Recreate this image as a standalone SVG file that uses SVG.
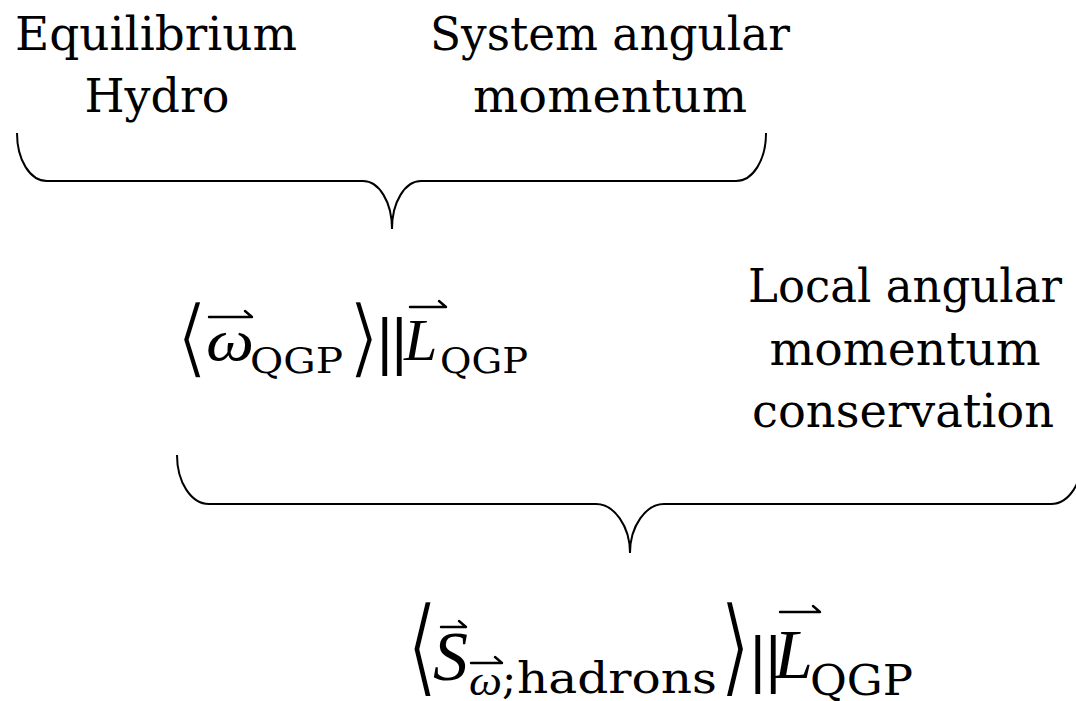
<svg xmlns="http://www.w3.org/2000/svg" width="1076" height="701" viewBox="0 0 1076 701">
  <style>
    .label { font-family: "DejaVu Serif", "Liberation Serif", serif; font-size: 47px; fill: #000; text-anchor: middle; }
    .mi { font-family: "Liberation Serif", "DejaVu Serif", serif; font-style: italic; fill: #000; }
    .sub { font-family: "DejaVu Serif", "Liberation Serif", serif; fill: #000; }
    .delim { font-family: "DejaVu Sans", "Liberation Sans", sans-serif; fill: #000; }
    /* thin the angle brackets by eroding their edges with a white outline */
    .thin { stroke: #fff; stroke-width: 2.6px; paint-order: fill stroke; }
    .brace { fill: none; stroke: #000; stroke-width: 2; }
    .vec { fill: none; stroke: #000; stroke-width: 2.4; stroke-linecap: round; stroke-linejoin: round; }
  </style>
  <rect width="1076" height="701" fill="#fff"/>

  <!-- Braces joining the labels to the results below them -->
  <g id="connectors">
    <path class="brace" d="M17,133 C17,160 30,181 47,181 L363,181 C379,181 392,202 392,229 C392,202 405,181 421,181 L736,181 C753,181 766,160 766,133"/>
    <path class="brace" d="M177,455 C177,482 191,504 209,504 L596,504 C614,504 630,526 630,553 C630,526 646,504 664,504 L1051,504 C1069,504 1083,482 1083,455"/>
  </g>

  <g id="equilibrium-hydro">
    <text class="label" x="156" y="50" textLength="282" lengthAdjust="spacingAndGlyphs">Equilibrium</text>
    <text class="label" x="157" y="112" textLength="145" lengthAdjust="spacingAndGlyphs">Hydro</text>
  </g>

  <g id="system-angular-momentum">
    <text class="label" x="610" y="50" textLength="360" lengthAdjust="spacingAndGlyphs">System angular</text>
    <text class="label" x="610" y="112" textLength="274" lengthAdjust="spacingAndGlyphs">momentum</text>
  </g>

  <g id="local-conservation">
    <text class="label" x="905" y="302" textLength="314" lengthAdjust="spacingAndGlyphs">Local angular</text>
    <text class="label" x="905" y="365" textLength="271" lengthAdjust="spacingAndGlyphs">momentum</text>
    <text class="label" x="903" y="427" textLength="302" lengthAdjust="spacingAndGlyphs">conservation</text>
  </g>

  <!-- <omega_QGP> || L_QGP -->
  <g id="vorticity-qgp">
    <text class="delim thin" x="175" y="367" font-size="87">⟨</text>
    <text class="mi" x="206" y="360" font-size="60" textLength="48" lengthAdjust="spacingAndGlyphs">ω</text>
    <path class="vec" d="M209,317 H252 M245,311 L252,317"/>
    <text class="sub" x="250" y="373" font-size="36" textLength="93" lengthAdjust="spacingAndGlyphs">QGP</text>
    <text class="delim thin" x="347" y="367" font-size="87">⟩</text>
    <text class="delim" x="375" y="362" font-size="58" letter-spacing="-5">||</text>
    <text class="mi" x="404" y="360" font-size="60">L</text>
    <path class="vec" d="M410,307 H446 M439,301 L446,307"/>
    <text class="sub" x="440" y="373" font-size="36" textLength="88" lengthAdjust="spacingAndGlyphs">QGP</text>
  </g>

  <!-- <S_{omega; hadrons}> || L_QGP -->
  <g id="spin-hadrons">
    <text class="delim thin" transform="translate(406,0) scale(0.77,1)" x="0" y="683" font-size="108">⟨</text>
    <text class="mi" x="433" y="680" font-size="70">S</text>
    <path class="vec" d="M441,627 H466 M459,621 L466,627"/>
    <text class="mi" x="469" y="695" font-size="42" textLength="33" lengthAdjust="spacingAndGlyphs">ω</text>
    <path class="vec" d="M471,663 H502 M495,657 L502,663"/>
    <text class="sub" x="502" y="693" font-size="42">;</text>
    <text class="sub" x="517" y="693" font-size="42" textLength="200" lengthAdjust="spacingAndGlyphs">hadrons</text>
    <text class="delim thin" transform="translate(719,0) scale(0.77,1)" x="0" y="683" font-size="108">⟩</text>
    <text class="delim" x="748" y="680" font-size="58" letter-spacing="-4">||</text>
    <text class="mi" x="774" y="678" font-size="70">L</text>
    <path class="vec" d="M780,612 H820 M813,606 L820,612"/>
    <text class="sub" x="810" y="695" font-size="42" textLength="103" lengthAdjust="spacingAndGlyphs">QGP</text>
  </g>
</svg>
